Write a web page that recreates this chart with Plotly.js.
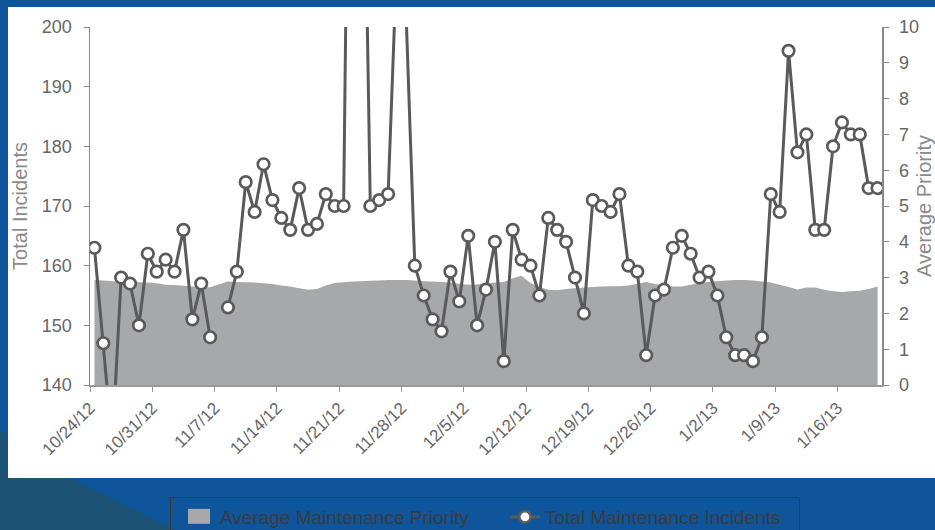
<!DOCTYPE html>
<html><head><meta charset="utf-8">
<script src="https://cdn.plot.ly/plotly-3.0.1.min.js"></script>
<style>
html,body{margin:0;padding:0;width:935px;height:530px;overflow:hidden;background:#0e559c;}
#wedge{position:absolute;left:0;top:0;width:935px;height:530px;background:#1d5374;clip-path:polygon(0 430px, 70px 478px, 175px 530px, 0 530px);}
#card{position:absolute;left:8px;top:7px;width:927px;height:471px;background:#fff;}
#chart{position:absolute;left:0;top:0;width:935px;height:530px;}
</style></head><body>
<div id="wedge"></div><div id="card"></div><div id="chart"></div>
<script>
const dates = [
'2012-10-24','2012-10-25','2012-10-26','2012-10-27','2012-10-28','2012-10-29','2012-10-30','2012-10-31',
'2012-11-01','2012-11-02','2012-11-03','2012-11-04','2012-11-05','2012-11-06','2012-11-07','2012-11-08','2012-11-09','2012-11-10',
'2012-11-11','2012-11-12','2012-11-13','2012-11-14','2012-11-15','2012-11-16','2012-11-17','2012-11-18','2012-11-19','2012-11-20',
'2012-11-21','2012-11-22','2012-11-23','2012-11-24','2012-11-25','2012-11-26','2012-11-27','2012-11-28','2012-11-29','2012-11-30',
'2012-12-01','2012-12-02','2012-12-03','2012-12-04','2012-12-05','2012-12-06','2012-12-07','2012-12-08','2012-12-09','2012-12-10',
'2012-12-11','2012-12-12','2012-12-13','2012-12-14','2012-12-15','2012-12-16','2012-12-17','2012-12-18','2012-12-19','2012-12-20',
'2012-12-21','2012-12-22','2012-12-23','2012-12-24','2012-12-25','2012-12-26','2012-12-27','2012-12-28','2012-12-29','2012-12-30','2012-12-31',
'2013-01-01','2013-01-02','2013-01-03','2013-01-04','2013-01-05','2013-01-06','2013-01-07','2013-01-08','2013-01-09','2013-01-10',
'2013-01-11','2013-01-12','2013-01-13','2013-01-14','2013-01-15','2013-01-16','2013-01-17','2013-01-18','2013-01-19','2013-01-20'
];

const totalIncidents = [
163,147,130,158,157,150,162,159,
161,159,166,151,157,148,null,153,159,174,
169,177,171,168,166,173,166,167,172,170,
170,300,260,170,171,172,212,203,160,155,
151,149,159,154,165,150,156,164,144,166,
161,160,155,168,166,164,158,152,171,170,
169,172,160,159,145,155,156,163,165,162,158,
159,155,148,145,145,144,148,172,169,196,
179,182,166,166,180,184,182,182,173,173
];

const avgPriority = [
2.93,2.92,2.90,2.90,2.89,2.87,2.86,2.84,
2.80,2.79,2.77,2.75,2.74,2.73,null,2.89,2.88,2.87,
2.86,2.84,2.82,2.78,2.75,2.70,2.66,2.68,2.78,2.85,
2.87,2.89,2.90,2.91,2.92,2.93,2.93,2.93,2.92,2.90,
2.89,2.88,2.86,2.83,2.80,2.81,2.84,2.86,2.88,2.98,
3.05,2.85,2.74,2.66,2.65,2.68,2.70,2.72,2.74,2.75,
2.76,2.76,2.78,2.83,2.88,2.82,2.78,2.75,2.75,2.80,2.85,
2.88,2.90,2.92,2.93,2.93,2.92,2.89,2.86,2.80,2.74,
2.67,2.72,2.72,2.66,2.62,2.60,2.62,2.63,2.68,2.75
];

const tickDates = ['2012-10-24','2012-10-31','2012-11-07','2012-11-14','2012-11-21','2012-11-28','2012-12-05','2012-12-12','2012-12-19','2012-12-26','2013-01-02','2013-01-09','2013-01-16'];
const tickLabels = ['10/24/12','10/31/12','11/7/12','11/14/12','11/21/12','11/28/12','12/5/12','12/12/12','12/19/12','12/26/12','1/2/13','1/9/13','1/16/13'];

const xMid = dates.map(d => d + ' 12:00');
const FONT = '"Liberation Sans", Arial, sans-serif';

const traces = [
  {
    x: xMid, y: avgPriority, yaxis: 'y', type: 'scatter', mode: 'none',
    fill: 'tozeroy', fillcolor: '#a7a8aa', connectgaps: false,
    name: 'Average Maintenance Priority', hoverinfo: 'skip'
  },
  {
    x: xMid, y: totalIncidents, yaxis: 'y2', type: 'scatter', mode: 'lines+markers',
    connectgaps: false,
    line: {color: '#5a5a5c', width: 3},
    marker: {symbol: 'circle', size: 11.5, color: '#ffffff', line: {color: '#5a5a5c', width: 2.7}},
    name: 'Total Maintenance Incidents'
  }
];

const layout = {
  width: 935, height: 530,
  margin: {l: 90, r: 53, t: 27, b: 145, pad: 0},
  paper_bgcolor: 'rgba(0,0,0,0)', plot_bgcolor: 'rgba(0,0,0,0)',
  font: {family: FONT, color: '#666'},
  showlegend: true,
  legend: {
    orientation: 'h', xref: 'container', yref: 'container',
    x: 179/935, xanchor: 'left', y: 33/530, yanchor: 'top',
    bgcolor: 'rgba(0,0,0,0)', bordercolor: '#3a3a3a', borderwidth: 1,
    font: {family: FONT, size: 19, color: '#3c3c3c'},
    entrywidthmode: 'pixels', entrywidth: 280,
    traceorder: 'normal'
  },
  xaxis: {
    type: 'date', range: ['2012-10-24', '2013-01-21'],
    tickmode: 'array', tickvals: tickDates, ticktext: tickLabels,
    tickangle: -45, tickfont: {size: 17, color: '#666'},
    ticks: 'outside', ticklen: 5, tickcolor: '#999', tickwidth: 1,
    showline: true, linecolor: '#999', linewidth: 1.5,
    showgrid: false, zeroline: false, automargin: false
  },
  yaxis: {
    range: [0, 10], tickvals: [0,1,2,3,4,5,6,7,8,9,10],
    side: 'right', anchor: 'x',
    tickfont: {size: 18, color: '#666'},
    ticks: 'outside', ticklen: 5, tickcolor: '#888', ticklabelstandoff: 7,
    showline: true, linecolor: '#888', linewidth: 1.5,
    showgrid: false, zeroline: false, automargin: false,
    title: {text: 'Average Priority', font: {size: 20, color: '#8a8a8a'}, standoff: 20}
  },
  yaxis2: {
    range: [140, 200], tickvals: [140,150,160,170,180,190,200],
    overlaying: 'y', side: 'left', anchor: 'x',
    tickfont: {size: 18, color: '#666'},
    ticks: 'outside', ticklen: 5, tickcolor: '#888', ticklabelstandoff: 8,
    showline: true, linecolor: '#888', linewidth: 1.5,
    showgrid: false, zeroline: false, automargin: false,
    title: {text: 'Total Incidents', font: {size: 20, color: '#8a8a8a'}, standoff: 9}
  }
};

Plotly.newPlot('chart', traces, layout, {displayModeBar: false, staticPlot: true}).then(gd => {
  // square swatch for the area legend entry, as in the original legend
  gd.querySelectorAll('.legend .legendfill path').forEach(p => {
    p.setAttribute('d', 'M8,-8h22v15h-22z');
  });
  // legend frame as wide as in the original
  const bg = gd.querySelector('.legend rect.bg');
  if (bg) { bg.setAttribute('x', '-8.5'); bg.setAttribute('width', '629'); }
});
</script>
</body></html>
